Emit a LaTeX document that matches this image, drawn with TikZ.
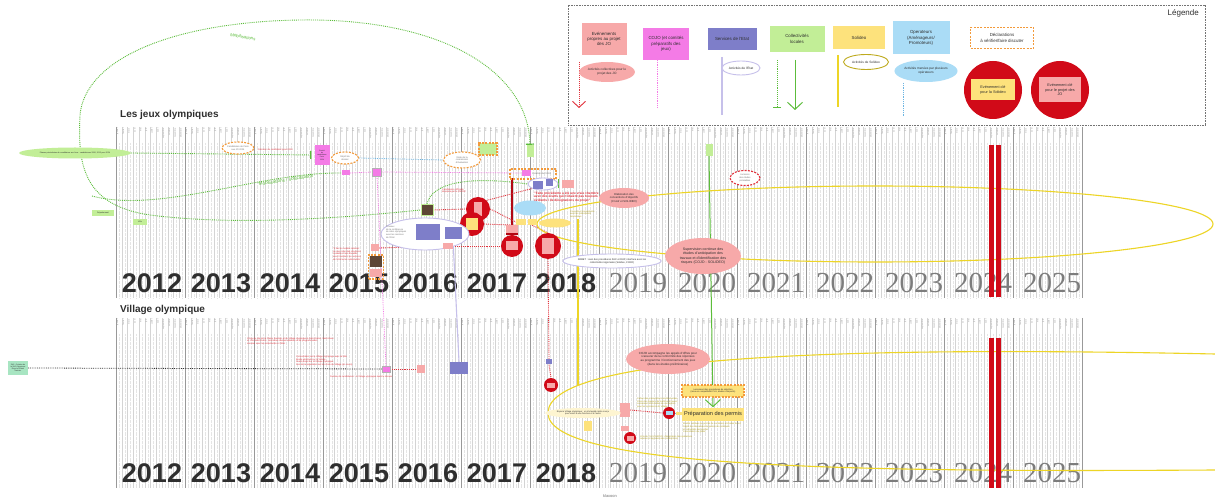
\documentclass[tikz,border=0pt]{standalone}
\usepackage{fontspec}
\setmainfont{Liberation Sans}
\newfontfamily\yearfont{Liberation Serif}
\usetikzlibrary{positioning,arrows.meta,shapes.geometric}

\definecolor{ink}{HTML}{2E2E2E}
\definecolor{yeargray}{HTML}{7C7C7C}
\definecolor{evpink}{HTML}{F7A9A9}
\definecolor{evred}{HTML}{E2323C}
\definecolor{cojomag}{HTML}{F47BE6}
\definecolor{etatblue}{HTML}{7E7EC9}
\definecolor{etatlav}{HTML}{C6C0EA}
\definecolor{collgreen}{HTML}{C2EE97}
\definecolor{collline}{HTML}{5CBD3B}
\definecolor{solyellow}{HTML}{FDE27C}
\definecolor{solline}{HTML}{EDD526}
\definecolor{opblue}{HTML}{AADCF6}
\definecolor{opline}{HTML}{6CB5E2}
\definecolor{declorange}{HTML}{F39A3B}
\definecolor{keyred}{HTML}{D10A18}
\definecolor{villmint}{HTML}{A8E5C2}
\definecolor{photobrown}{HTML}{5E4636}

\pgfdeclarelayer{gridlayer}
\pgfdeclarelayer{linklayer}
\pgfsetlayers{gridlayer,linklayer,main}

\begin{document}
\begin{tikzpicture}[
  x=1pt,
  y=-1pt,
  font=\fontsize{2.3}{2.7}\selectfont,
  monthline/.style={draw=black!17,line width=.35pt},
  halfline/.style={draw=black!10,line width=.3pt,densely dotted},
  yearline/.style={draw=black!40,line width=.8pt},
  monthlbl/.style={rotate=90,anchor=east,inner sep=0pt,text=black!40,font=\fontsize{2.2}{2.4}\selectfont},
  yearbold/.style={font=\bfseries\fontsize{27}{30}\selectfont,text=ink,inner sep=0pt},
  yearserif/.style={font=\yearfont\fontsize{29}{30}\selectfont,text=yeargray,inner sep=0pt},
  sectitle/.style={anchor=west,font=\bfseries\fontsize{10}{12}\selectfont,text=ink,inner sep=0pt},
  legtxt/.style={font=\fontsize{4.4}{5.2}\selectfont},
  box/.style={align=center,text=ink,inner sep=.6pt},
  evbox/.style={box,fill=evpink},
  cojobox/.style={box,fill=cojomag},
  etatbox/.style={box,fill=etatblue},
  collbox/.style={box,fill=collgreen},
  solbox/.style={box,fill=solyellow},
  opbox/.style={box,fill=opblue},
  declbox/.style={box,draw=declorange,line width=1.1pt,dash pattern=on 2pt off 1.3pt},
  evell/.style={box,ellipse,fill=evpink},
  etatell/.style={box,ellipse,draw=etatlav,line width=.9pt,fill=white},
  solell/.style={box,ellipse,draw=solline!80!black,line width=.9pt,fill=white},
  opell/.style={box,ellipse,fill=opblue},
  declell/.style={box,ellipse,fill=white,draw=declorange,line width=1.1pt,dash pattern=on 2pt off 1.3pt},
  keyevt/.style={circle,fill=keyred,inner sep=0pt},
  redtxt/.style={text=evred,align=left,inner sep=0pt},
  graytxt/.style={text=black!55,align=left,inner sep=0pt},
  soltxt/.style={text=solline!75!black,align=left,inner sep=0pt},
  evline/.style={draw=evred,densely dotted,line width=.9pt},
  cojoline/.style={draw=cojomag,densely dotted,line width=.8pt},
  etatline/.style={draw=etatlav,line width=1.1pt},
  colldot/.style={draw=collline,densely dotted,line width=.9pt},
  collarrow/.style={draw=collline,line width=1pt,-{Straight Barb[length=7pt,width=15pt]}},
  solv/.style={draw=solline,line width=1.1pt},
  opdot/.style={draw=opline,densely dotted,line width=.8pt}
]
\useasboundingbox (0,0) rectangle (1215,502);

\begin{pgfonlayer}{gridlayer}
\fill[white] (0,0) rectangle (1215,502);
\foreach \gtop/\gbot in {127/298,318/488}{
  \foreach \yr in {0,...,13}{
    \foreach \m/\mname in {0/janvier,1/février,2/mars,3/avril,4/mai,5/juin,6/juillet,7/août,8/septembre,9/octobre,10/novembre,11/décembre}{
      \pgfmathsetmacro\mx{116+69*\yr+5.75*\m}
      \draw[monthline] (\mx,\gtop) -- (\mx,\gbot);
      \draw[halfline] (\mx+2.9,\gtop+16) -- (\mx+2.9,\gbot);
      \node[monthlbl] (m-\gtop-\yr-\m) at (\mx+1.5,\gtop+1) {\mname};
    }
    \draw[yearline] ({116+69*\yr},\gtop) -- ({116+69*\yr},\gbot);
  }
  \draw[yearline] (1082,\gtop) -- (1082,\gbot);
}
\foreach \ylab/\yy in {283/top,473/bot}{
  \foreach \yr [count=\i from 0] in {2012,2013,2014,2015,2016,2017,2018}{
    \node[yearbold] (yb-\yy-\yr) at ({116+69*\i+36},\ylab) {\yr};
  }
  \foreach \yr [count=\i from 7] in {2019,2020,2021,2022,2023,2024,2025}{
    \node[yearserif] (ys-\yy-\yr) at ({116+69*\i+39},\ylab) {\yr};
  }
}
\end{pgfonlayer}

\node[draw=black!55,dash pattern=on .8pt off .8pt,line width=.6pt,minimum width=637,minimum height=120,inner sep=0pt] (legend) at (886.5,65) {};
\node[anchor=north east,inner sep=0pt,font=\fontsize{8}{9}\selectfont,text=ink] (legtitle) at (1199,9) {Légende};
\node[evbox,legtxt,minimum width=45,minimum height=32] (legev) at (604,39) {Evénements\\propres au projet\\des JO};
\node[cojobox,legtxt,minimum width=46,minimum height=32] (legcojo) at (666,44) {COJO (et comités\\préparatifs des\\jeux)};
\node[etatbox,legtxt,minimum width=49,minimum height=22] (legetat) at (732,39) {Services de l'Etat};
\node[collbox,legtxt,minimum width=55,minimum height=26] (legcoll) at (797,39) {Collectivités\\locales};
\node[solbox,legtxt,minimum width=52,minimum height=23] (legsol) at (859,38) {Solideo};
\node[opbox,legtxt,minimum width=57,minimum height=33] (legop) at (921,38) {Operateurs\\(Aménageurs/\\Promoteurs)};
\node[declbox,legtxt,fill=white,minimum width=63,minimum height=21] (legdecl) at (1002,38) {Déclarations\\à vérifier/faire discuter};

\node[evell,font=\fontsize{3.2}{3.8}\selectfont,minimum width=48,minimum height=20] (legevell) at (607,72) {Activités collectives pour le\\projet des JO};
\node[etatell,font=\fontsize{3.2}{3.8}\selectfont,minimum width=38,minimum height=14] (legetatell) at (741,68) {Activités de l'Etat};
\node[solell,font=\fontsize{3.2}{3.8}\selectfont,minimum width=45,minimum height=15] (legsolell) at (866,62) {Activités de Solideo};
\node[opell,font=\fontsize{3.2}{3.8}\selectfont,minimum width=62,minimum height=22] (legopell) at (926,71) {Activités menées par plusieurs\\opérateurs};
\node[keyevt,minimum size=58] (legkeysol) at (993,90) {};
\node[solbox,font=\fontsize{3.8}{4.5}\selectfont,minimum width=44,minimum height=21] (legkeysolbox) at (legkeysol) {Evénement clé\\pour la Solideo};
\node[keyevt,minimum size=58] (legkeyjo) at (1060,90) {};
\node[evbox,font=\fontsize{3.8}{4.5}\selectfont,minimum width=42,minimum height=25] (legkeyjobox) at (legkeyjo) {Evénement clé\\pour le projet des\\JO};
\coordinate (legevA) at (579,62);
\coordinate (legevB) at (579,108);
\coordinate (legcojoA) at (657,60);
\coordinate (legcojoB) at (657,107);
\coordinate (legetatA) at (722,57);
\coordinate (legetatB) at (722,115);
\coordinate (legcollA) at (777,60);
\coordinate (legcollB) at (777,108);
\coordinate (legcollC) at (795,60);
\coordinate (legcollD) at (795,110);
\coordinate (legsolA) at (838,55);
\coordinate (legsolB) at (838,107);
\coordinate (legopA) at (903,83);
\coordinate (legopB) at (903,117);

\node[sectitle] (jotitle) at (120,115) {Les jeux olympiques};
\node[sectitle] (vtitle) at (120,310) {Village olympique};

\node[draw=solline,line width=1.1pt,ellipse,minimum width=676,minimum height=76,inner sep=0pt] (solbig) at (875,224) {};
\foreach \bx/\bn in {991.5/a,998.5/b}{
  \node[fill=keyred,minimum width=5,minimum height=152,inner sep=0pt] (bar-top-\bn) at (\bx,221) {};
  \node[fill=keyred,minimum width=5,minimum height=150,inner sep=0pt] (bar-bot-\bn) at (\bx,413) {};
}

\node[collbox,ellipse,minimum width=112,minimum height=11,font=\fontsize{1.9}{2.2}\selectfont] (cand) at (75,153) {Phases précédentes de candidature aux Jeux : candidatures 2008, 2012 pour 2024};
\node[collbox,minimum width=22,minimum height=6,font=\fontsize{2}{2.4}\selectfont] (collB) at (103,213) {Département};
\node[collbox,minimum width=14,minimum height=6,font=\fontsize{2}{2.4}\selectfont] (collC) at (140,222) {Ville};
\node[text=collline,inner sep=0pt,rotate=-10,font=\fontsize{4.4}{5}\selectfont] (mob1) at (243,37) {Mobilisations};
\node[text=collline,inner sep=0pt,rotate=9,font=\fontsize{4.6}{5.4}\selectfont] (mob2) at (286,180) {Mobilisations / sollicitations};
\coordinate (brstart) at (92,196);

\node[declell,graytxt,align=center,minimum width=32,minimum height=12] (decl1) at (238,148) {Candidature de Paris\\aux JO 2024};
\node[redtxt,anchor=west] (redA) at (258,150) {Décision de candidater pour 2024};
\node[cojobox,minimum width=15,minimum height=20,font=\fontsize{1.8}{2.2}\selectfont] (cojoA) at (322,155) {Comité\\de\\candidature\\Paris\\2024};
\node[declell,graytxt,align=center,minimum width=27,minimum height=12] (decl2) at (345,158) {Dépôt du\\dossier};
\node[declell,graytxt,align=center,minimum width=37,minimum height=16] (decl3) at (462,160) {Visite de la\\commission\\d'évaluation};
\node[collbox,declbox,fill=collgreen,minimum width=18,minimum height=12] (decl4) at (488,149) {};
\node[collbox,minimum width=7,minimum height=12] (collA) at (530,151) {};

\node[cojobox,minimum width=8,minimum height=5] (cojoB) at (346,173) {};
\node[cojobox,draw=black!30,minimum width=9,minimum height=8] (cojoC) at (377,172) {};
\node[declbox,minimum width=46,minimum height=10] (declrect) at (533,174) {};
\node[cojobox,minimum width=9,minimum height=6] (cojoD) at (526,173) {};
\node[graytxt,anchor=west] (declrectTxt) at (532,174) {Création du COJO};

\node[draw=collgreen,line width=1pt,fill=photobrown,minimum width=12,minimum height=11] (thumb) at (427,210) {};
\node[redtxt,anchor=west] (redB) at (442,191) {Candidature officielle\\déposée par le CNOSF};
\node[etatell,minimum width=30,minimum height=12] (lavell) at (543,184) {};
\node[etatbox,minimum width=10,minimum height=8] (etatC) at (538,185) {};
\node[etatbox,minimum width=7,minimum height=7] (etatD) at (549,183) {};
\coordinate (lavbar) at (558,184);
\node[evbox,minimum width=12,minimum height=8] (evC) at (568,184) {};
\node[redtxt,anchor=west,font=\bfseries\fontsize{3.2}{3.8}\selectfont] (redC) at (534,197) {"Faite précédente a été une vraie chambre\\avec des écarts qui n'étaient pas toujours\\évidents / de désignations du projet"};

\node[keyevt,minimum size=24] (kc1) at (478,209) {};
\node[evbox,minimum width=8,minimum height=14] (kc1box) at (kc1) {};
\node[keyevt,minimum size=24] (kc2) at (472,224) {};
\node[solbox,minimum width=12,minimum height=12] (kc2box) at (kc2) {};

\node[etatell,minimum width=88,minimum height=32] (lavbig) at (425,234) {};
\node[graytxt,anchor=west] (lavtxt) at (386,232) {Travaux\\de la conférence\\de sites olympiques\\avec les services\\de l'Etat};
\node[etatbox,minimum width=24,minimum height=16] (etatA) at (428,232) {};
\node[etatbox,minimum width=17,minimum height=12] (etatB) at (453,233) {};

\node[redtxt,anchor=west] (redD) at (333,254) {"Il faut le modèle national :\\ne pas créer des structures\\nouvelles mais travailler\\avec l'existant, les services\\de l'Etat et les collectivités"};
\node[evbox,minimum width=8,minimum height=7] (evA) at (375,248) {};
\node[evbox,minimum width=10,minimum height=6] (evB) at (448,246) {};
\node[declbox,minimum width=15,minimum height=24] (darkframe) at (376,267) {};
\node[box,fill=photobrown,minimum width=12,minimum height=11] (darkA) at (376,262) {};
\node[evbox,minimum width=12,minimum height=8] (darkB) at (376,273) {};

\coordinate (redtop) at (512,178);
\node[evbox,minimum width=12,minimum height=8] (evD) at (512,229) {};
\node[keyevt,minimum size=22] (kcx) at (512,246) {};
\node[evbox,minimum width=12,minimum height=9] (kcxbox) at (kcx) {};

\node[opell,minimum width=32,minimum height=15] (opA) at (530,208) {};
\node[solbox,minimum width=10,minimum height=6] (solA) at (521,222) {};
\node[solbox,minimum width=9,minimum height=6] (solB) at (532,222) {};
\node[solbox,ellipse,minimum width=32,minimum height=9] (solellA) at (555,223) {};
\node[keyevt,minimum size=26] (kc3) at (548,246) {};
\node[evbox,minimum width=12,minimum height=16] (kc3box) at (kc3) {};
\node[soltxt,anchor=west] (solT) at (570,214) {Conseils et conventions\\avec les collectivités\\territoriales};
\coordinate (soltop) at (578,219);

\node[evell,font=\fontsize{2.8}{3.3}\selectfont,minimum width=50,minimum height=20] (evellA) at (624,198) {Elaboration des\\conventions d'objectifs\\(Cnosf et SOLIDEO)};
\node[etatell,font=\fontsize{2.5}{3}\selectfont,minimum width=95,minimum height=14] (srbet) at (612,261) {SRBET : suivi des procédures ZAC et DUP, interface avec les\\collectivités régionales (Solideo, COJO)};
\node[evell,font=\fontsize{3.6}{4.3}\selectfont,minimum width=76,minimum height=36] (superv) at (703,256) {Supervision continue des\\études d'anticipation des\\travaux et d'identification des\\risques (COJO - SOLIDEO)};
\node[collbox,minimum width=7,minimum height=12] (collD) at (709,150) {};
\node[declell,draw=evred,graytxt,align=center,minimum width=30,minimum height=15] (decl5) at (745,178) {Livraison\\des études\\préalables};

\node[box,fill=villmint,minimum width=20,minimum height=13,font=\fontsize{1.8}{2.1}\selectfont] (villbox) at (18,368) {ZAC : Création de\\la ZAC Olympique\\Pleyel et Plaine\\Saulnier};
\node[cojobox,draw=black!30,minimum width=8,minimum height=6] (cojoV) at (386,369) {};
\node[evbox,minimum width=8,minimum height=8] (evV) at (421,369) {};
\node[redtxt,anchor=west] (vtxtA) at (247,341) {Choix du site de la Plaine Saulnier et du Village olympique à Saint-Denis, Saint-Ouen\\et L'Île-Saint-Denis ; premières études urbaines et de programmation\\menées avec les collectivités et l'Etat};
\node[redtxt,anchor=west] (vtxtB) at (296,361) {Concertation sur le Village olympique avec la Ville\\Etude générale sur le Village\\Avant-projet sur le Village olympique\\Avis de la population sur les choix du Village (en cours)};
\node[redtxt,anchor=west] (vtxtC) at (330,377) {Dossier de candidature : le Village olympique dans le dossier};
\node[etatbox,minimum width=18,minimum height=12] (etatV) at (459,368) {};
\node[etatbox,minimum width=6,minimum height=5] (etatW) at (549,362) {};
\node[keyevt,minimum size=14] (kcv) at (551,385) {};
\node[evbox,minimum width=8,minimum height=5] (kcvbox) at (kcv) {};
\coordinate (solbot) at (578,385);

\node[evell,font=\fontsize{3}{3.6}\selectfont,minimum width=78,minimum height=30] (cojoacc) at (668,359) {COJO accompagne les appels d'offres pour\\s'assurer de la conformité des réponses\\au programme / fonctionnement des jeux\\(dans les études préliminaires)};
\node[solbox,declbox,fill=solyellow,font=\fontsize{2.2}{2.6}\selectfont,minimum width=62,minimum height=12] (lancement) at (713,391) {Lancement des procédures de sélection\\(mise en compatibilité PLU, études d'impacts)};
\node[solbox,font=\fontsize{5.6}{6.5}\selectfont,minimum width=62,minimum height=13] (permis) at (713,414) {Préparation des permis};
\node[soltxt,anchor=north west] (permisT) at (683,423) {Etudes relatives au permis de construire et études de sol\\Dépôt des demandes de permis de construire\\et instruction des permis\\Consultation du public};
\node[soltxt,anchor=west] (permisU) at (637,403) {Cahier des prescriptions architecturales\\Choix des équipes de maîtrise d'oeuvre\\Lancement des études de conception\\pour les opérateurs du Village};
\node[keyevt,minimum size=12] (kcP) at (669,413) {};
\node[opbox,minimum width=7,minimum height=4] (kcPbox) at (kcP) {};
\node[solbox,minimum width=6,minimum height=3] (solP) at (679,413) {};
\node[evbox,minimum width=10,minimum height=14] (evP) at (625,410) {};
\node[evbox,minimum width=8,minimum height=5] (evQ) at (625,428) {};
\node[box,ellipse,fill=solyellow!35,font=\fontsize{2.2}{2.6}\selectfont,minimum width=66,minimum height=10] (espace) at (583,413) {Espace Village olympique : un immeuble mixte conçu\\pour servir à une fonction et à l'autre};
\node[solbox,minimum width=8,minimum height=10] (solQ) at (588,426) {};
\node[keyevt,minimum size=12] (kcQ) at (630,438) {};
\node[evbox,minimum width=7,minimum height=5] (kcQbox) at (kcQ) {};
\node[soltxt,anchor=west] (solQT) at (640,438) {Vote du CA SOLIDEO : désignation des opérateurs\\retenus et signature des conventions};
\node[text=black!55,inner sep=0pt,font=\fontsize{4}{5}\selectfont] (klaxoon) at (610,496) {klaxoon};

\begin{pgfonlayer}{linklayer}
\draw[evline,-{Straight Barb[length=6pt,width=13pt]}] (legevA) -- (legevB);
\draw[cojoline] (legcojoA) -- (legcojoB);
\draw[etatline] (legetatA) -- (legetatB);
\draw[colldot,-{Bar[width=8pt,line width=1.2pt]}] (legcollA) -- (legcollB);
\draw[collarrow] (legcollC) -- (legcollD);
\draw[solv] (legsolA) -- (legsolB);
\draw[opdot] (legopA) -- (legopB);

\draw[colldot,-{Bar[width=8pt,line width=1.2pt]}] (cand.east) -- ([xshift=-3pt]cojoA.west);
\draw[colldot,{Bar[width=8pt,line width=1.2pt]}-] (collA.north) .. controls (528,70) and (440,18) .. (300,20)
  .. controls (170,22) and (85,60) .. (80,115) .. controls (78,160) and (80,205) .. (150,215)
  .. controls (250,228) and (380,214) .. (thumb.west);
\draw[colldot] (brstart) .. controls (160,214) and (260,172) .. (cojoB.west);
\draw[colldot] (thumb.north) .. controls (432,182) and (470,176) .. (lavell.west);
\draw[colldot,{Bar[width=9pt,line width=1.2pt]}-] (lavbar) -- (lavell.east);
\draw[opdot] (decl2.east) -- (decl3.west);
\draw[cojoline] (cojoB.east) -- (cojoC.west);
\draw[cojoline] (cojoC.east) -- (cojoD.west);
\draw[cojoline] (cojoC.south) -- (cojoV.north);
\draw[draw=keyred!85!black,line width=1.3pt] (redtop) -- (evD.north);
\draw[draw=keyred!85!black,line width=1.3pt,-{Bar[width=12pt,line width=1.3pt]}] (evD.south) -- (kcx.north);
\draw[evline] (thumb.east) -- (kc1.west);
\draw[evline] (kc1.north east) -- (lavell.south west);
\draw[evline] (kc1.east) -- (solA.west);
\draw[evline] (kc2.east) -- (solA.south west);
\draw[evline] (evA.east) -- (evB.west);
\draw[evline] (evB.east) -- (kcx.west);
\draw[evline] (solB.south) -- (kc3.north);
\draw[evline] (kc3.south) -- (etatW.north);
\draw[evline] (etatW.south) -- (kcv.north);
\draw[etatline] (etatB.south) -- (etatV.north);
\draw[solv] (soltop) -- (solbot);
\draw[collarrow] (collD.south) -- (permis.north);
\draw[solv] (1215,354) .. controls (880,347) and (548,352) .. (548,413) .. controls (548,470) and (880,472) .. (1215,470);
\draw[densely dotted,line width=.8pt,draw=black!80] (villbox.east) -- (cojoV.west);
\draw[evline] (cojoV.east) -- (evV.west);
\draw[evline] (evP.east) -- (kcP.west);
\draw[opline,line width=1pt] (kcP.east) -- (solP.west);
\end{pgfonlayer}
\end{tikzpicture}
\end{document}
